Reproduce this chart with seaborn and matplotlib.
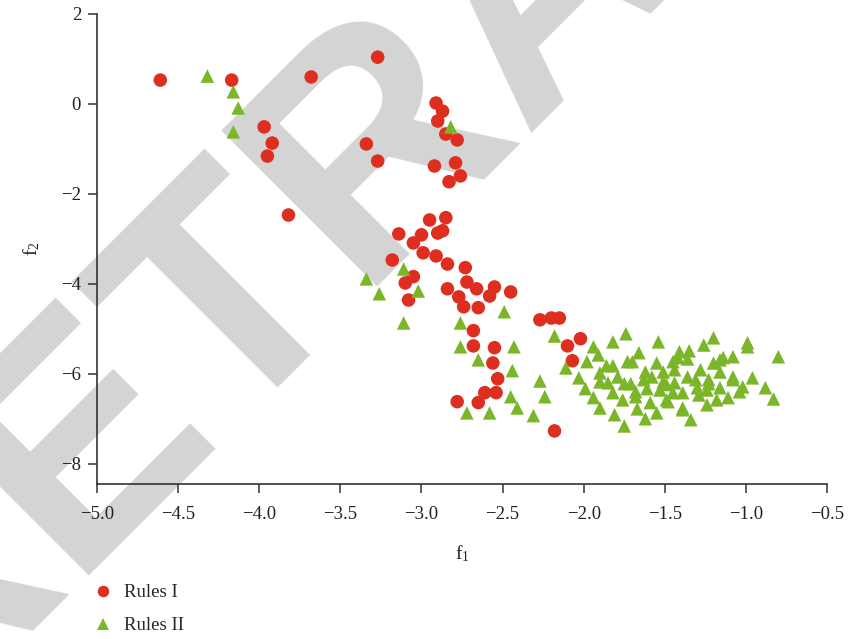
import pandas as pd
import matplotlib
matplotlib.use("Agg")
import matplotlib.pyplot as plt
import seaborn as sns

# Rules I (red circles)
rules1_f1 = [-4.61, -4.17, -3.68, -3.27, -3.97, -3.92, -3.95, -3.34, -3.27, -3.82,
             -2.91, -2.87, -2.90, -2.85, -2.78, -2.92, -2.79, -2.76, -2.83,
             -2.95, -2.85, -3.14, -3.00, -2.90, -2.87, -3.05, -2.99, -2.91, -3.18, -2.84, -2.73,
             -3.05, -3.10, -2.72, -2.66, -2.55, -2.58, -2.45, -2.84, -2.77, -2.74, -2.65, -3.08,
             -2.68, -2.68, -2.55, -2.56, -2.53, -2.61, -2.54, -2.78, -2.65, -2.18,
             -2.10, -2.02, -2.07, -2.27, -2.20, -2.15]
rules1_f2 = [0.53, 0.53, 0.60, 1.04, -0.51, -0.87, -1.16, -0.89, -1.27, -2.47,
             0.02, -0.16, -0.38, -0.67, -0.80, -1.38, -1.31, -1.60, -1.73,
             -2.58, -2.53, -2.89, -2.91, -2.87, -2.82, -3.09, -3.31, -3.38, -3.47, -3.56, -3.64,
             -3.84, -3.98, -3.96, -4.11, -4.07, -4.27, -4.18, -4.11, -4.29, -4.51, -4.53, -4.36,
             -5.04, -5.38, -5.42, -5.76, -6.11, -6.42, -6.42, -6.62, -6.64, -7.27,
             -5.38, -5.22, -5.71, -4.80, -4.76, -4.76]

# Rules II (green triangles)
rules2_f1 = [-4.32, -4.16, -4.13, -4.16, -2.82, -3.34, -3.11, -3.26, -3.02, -3.11,
             -2.76, -2.76, -2.65, -2.72, -2.58,
             -2.49, -2.18, -2.43, -2.44, -2.27, -2.24, -2.45, -2.41, -2.31,
             -2.11, -2.03, -1.99, -1.94, -1.90, -1.94, -1.91, -1.98, -1.82, -1.74,
             -1.54, -1.66, -1.73, -1.70, -1.82, -1.86, -1.90, -1.79, -1.85, -1.90,
             -1.75, -1.71, -1.82, -1.76, -1.81, -1.75, -1.67, -1.68, -1.68, -1.62,
             -1.59, -1.61, -1.63, -1.58, -1.62, -1.55, -1.55, -1.53, -1.51, -1.49,
             -1.45, -1.41, -1.35, -1.42, -1.36, -1.44, -1.49, -1.44, -1.45, -1.39,
             -1.48, -1.39, -1.34, -1.26, -1.20, -1.36, -1.28, -1.31, -1.30, -1.23,
             -1.24, -1.29, -1.24, -1.18, -1.11, -1.16, -1.20, -1.16, -1.14, -1.08,
             -1.16, -1.08, -1.08, -1.02, -1.04, -0.99, -0.99, -0.96, -0.88, -0.83,
             -0.80, -1.39, -1.51, -1.23]
rules2_f2 = [0.62, 0.27, -0.09, -0.62, -0.51, -3.89, -3.67, -4.22, -4.16, -4.87,
             -4.87, -5.40, -5.69, -6.87, -6.87,
             -4.62, -5.16, -5.40, -5.93, -6.16, -6.51, -6.51, -6.76, -6.93,
             -5.87, -6.09, -6.33, -6.53, -6.76, -5.40, -5.58, -5.73, -5.29, -5.11,
             -5.29, -5.53, -5.73, -5.73, -5.82, -5.82, -5.98, -6.07, -6.20, -6.18,
             -6.22, -6.22, -6.42, -6.58, -6.91, -7.16, -6.78, -6.40, -6.51, -7.00,
             -6.64, -6.33, -6.13, -6.07, -5.96, -5.76, -6.87, -6.36, -6.18, -6.58,
             -5.73, -5.51, -5.49, -5.64, -5.67, -5.91, -6.24, -6.20, -6.42, -6.42,
             -6.62, -6.76, -7.02, -5.36, -5.20, -6.07, -5.91, -6.13, -6.31, -6.13,
             -6.36, -6.47, -6.69, -6.58, -6.53, -6.31, -5.76, -5.69, -5.64, -5.62,
             -5.96, -6.07, -6.13, -6.29, -6.40, -5.40, -5.31, -6.09, -6.31, -6.56,
             -5.62, -6.80, -5.96, -6.22]

series_names = ["Rules I", "Rules II"]
x_ticks = [-5.0, -4.5, -4.0, -3.5, -3.0, -2.5, -2.0, -1.5, -1.0, -0.5]
y_ticks = [2, 0, -2, -4, -6, -8]

df = pd.concat([
    pd.DataFrame({"f1": rules1_f1, "f2": rules1_f2, "rule": series_names[0]}),
    pd.DataFrame({"f1": rules2_f1, "f2": rules2_f2, "rule": series_names[1]}),
], ignore_index=True)

sns.set_theme(style="ticks")
plt.rcParams["font.family"] = ["Liberation Serif", "DejaVu Serif"]
plt.rcParams["mathtext.default"] = "regular"

fig = plt.figure(figsize=(8.55, 6.39), dpi=100)
ax = fig.add_axes([0.1135, 0.2426, 0.8538, 0.7355])
ax.patch.set_alpha(0)

# grey watermark behind everything (starts off-canvas, lower left)
fig.text(-0.1108, -0.1544, "RETRACTED", fontsize=230, color="#d4d4d4",
         family="Liberation Sans", weight="bold", rotation=45,
         rotation_mode="anchor", ha="left", va="baseline", zorder=-5)

sns.scatterplot(data=df, x="f1", y="f2", hue="rule", style="rule",
                markers={"Rules I": "o", "Rules II": "^"},
                palette={"Rules I": "#DD2E1F", "Rules II": "#7AB628"},
                s=95, linewidth=0, edgecolor="none", ax=ax, zorder=3)

ax.set_xlim(-5.0, -0.5)
ax.set_ylim(-8.45, 2.0)
ax.set_xticks(x_ticks)
ax.set_yticks(y_ticks)
sns.despine(ax=ax)
for side in ["left", "bottom"]:
    ax.spines[side].set_linewidth(1.2)
    ax.spines[side].set_color("#333333")
ax.tick_params(direction="out", length=6.5, width=1.1, color="#333333",
               labelsize=13.5, labelcolor="#222222", pad=5)
ax.tick_params(axis="x", pad=9)
ax.set_xlabel("f$_1$", fontsize=14, labelpad=15, color="#222222")
ax.set_ylabel("f$_2$", fontsize=14, labelpad=14, color="#222222")

handles, labels = ax.get_legend_handles_labels()
ax.get_legend().remove()
fig.legend(handles, labels, loc="upper left", bbox_to_anchor=(0.1095, 0.086),
           frameon=False, fontsize=13.5, handlelength=1.0, handletextpad=0.6,
           labelspacing=0.85, borderpad=0, borderaxespad=0, markerscale=0.85)

fig.savefig("out.png", dpi=100)
plt.close(fig)
